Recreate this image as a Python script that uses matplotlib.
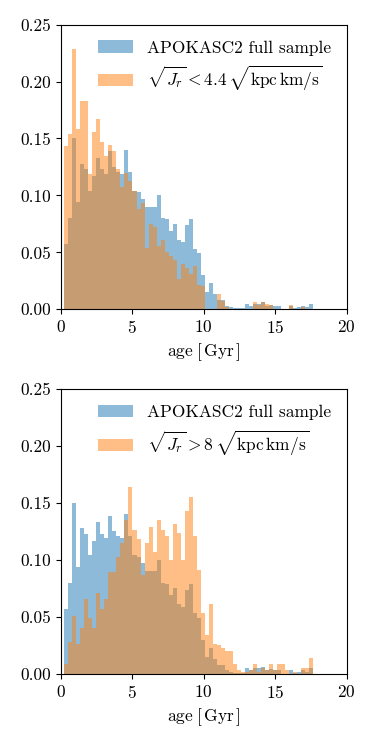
import numpy as np
import matplotlib
matplotlib.use('Agg')
import matplotlib.pyplot as plt

# Histogram bins (Gyr) shared by all samples
age_lo, age_hi, n_bins = 0.25, 17.67, 62

# Normalised counts
full_sample = [0.057, 0.080, 0.150, 0.094, 0.128, 0.123, 0.104, 0.117, 0.133, 0.123,
               0.119, 0.139, 0.125, 0.121, 0.119, 0.140, 0.121, 0.104, 0.103, 0.097,
               0.090, 0.090, 0.090, 0.100, 0.080, 0.079, 0.069, 0.075, 0.061, 0.059,
               0.074, 0.079, 0.053, 0.049, 0.030, 0.015, 0.023, 0.013, 0.008, 0.008,
               0.003, 0.002, 0.001, 0.001, 0.001, 0.005, 0.003, 0.005, 0.005, 0.006,
               0.003, 0.004, 0.003, 0.003, 0.000, 0.000, 0.003, 0.001, 0.002, 0.003,
               0.002, 0.005]
low_jr = [0.143, 0.154, 0.229, 0.158, 0.183, 0.183, 0.119, 0.156, 0.167, 0.147,
          0.135, 0.144, 0.139, 0.123, 0.107, 0.120, 0.113, 0.104, 0.088, 0.093,
          0.054, 0.075, 0.072, 0.056, 0.061, 0.050, 0.047, 0.043, 0.027, 0.040,
          0.036, 0.031, 0.038, 0.021, 0.020, 0.000, 0.000, 0.000, 0.013, 0.007,
          0.002, 0.000, 0.000, 0.000, 0.000, 0.000, 0.000, 0.006, 0.004, 0.006,
          0.005, 0.004, 0.000, 0.000, 0.000, 0.000, 0.004, 0.000, 0.000, 0.002,
          0.000, 0.000]
high_jr = [0.009, 0.028, 0.051, 0.026, 0.040, 0.066, 0.049, 0.040, 0.071, 0.057,
           0.066, 0.089, 0.089, 0.103, 0.115, 0.135, 0.164, 0.126, 0.118, 0.087,
           0.115, 0.129, 0.107, 0.135, 0.126, 0.121, 0.100, 0.132, 0.124, 0.100,
           0.143, 0.155, 0.121, 0.091, 0.053, 0.034, 0.061, 0.026, 0.025, 0.023,
           0.020, 0.020, 0.009, 0.003, 0.002, 0.002, 0.003, 0.009, 0.002, 0.005,
           0.003, 0.009, 0.003, 0.009, 0.009, 0.003, 0.000, 0.002, 0.000, 0.005,
           0.005, 0.014]

full_label = 'APOKASC2 full sample'
sub_labels = [r'$\sqrt{J_r} < 4.4\,\sqrt{\mathrm{kpc\,km/s}}$',
              r'$\sqrt{J_r} > 8\,\sqrt{\mathrm{kpc\,km/s}}$']

plt.rcParams['font.family'] = 'serif'
plt.rcParams['font.serif'] = ['cmr10']
plt.rcParams['mathtext.fontset'] = 'cm'
plt.rcParams['axes.formatter.use_mathtext'] = True
plt.rcParams['font.size'] = 12.5

edges = np.linspace(age_lo, age_hi, n_bins + 1)
centers = 0.5 * (edges[:-1] + edges[1:])

fig = plt.figure(figsize=(3.74, 7.47), dpi=100)
axes = [fig.add_axes([0.162, 0.586, 0.765, 0.381]),
        fig.add_axes([0.162, 0.098, 0.765, 0.381])]

for ax, sub, lab in zip(axes, [low_jr, high_jr], sub_labels):
    ax.hist(centers, bins=edges, weights=full_sample, color='C0', alpha=0.5, label=full_label)
    ax.hist(centers, bins=edges, weights=sub, color='C1', alpha=0.5, label=lab)
    ax.set_xlim(0, 20)
    ax.set_ylim(0, 0.25)
    ax.set_xticks([0, 5, 10, 15, 20])
    ax.set_yticks([0, 0.05, 0.10, 0.15, 0.20, 0.25])
    ax.set_yticklabels(['0.00', '0.05', '0.10', '0.15', '0.20', '0.25'])
    ax.set_xlabel(r'$\mathrm{age}\;[\,\mathrm{Gyr}\,]$')
    ax.legend(loc='upper right', frameon=False)

fig.savefig('out.png', dpi=100)
